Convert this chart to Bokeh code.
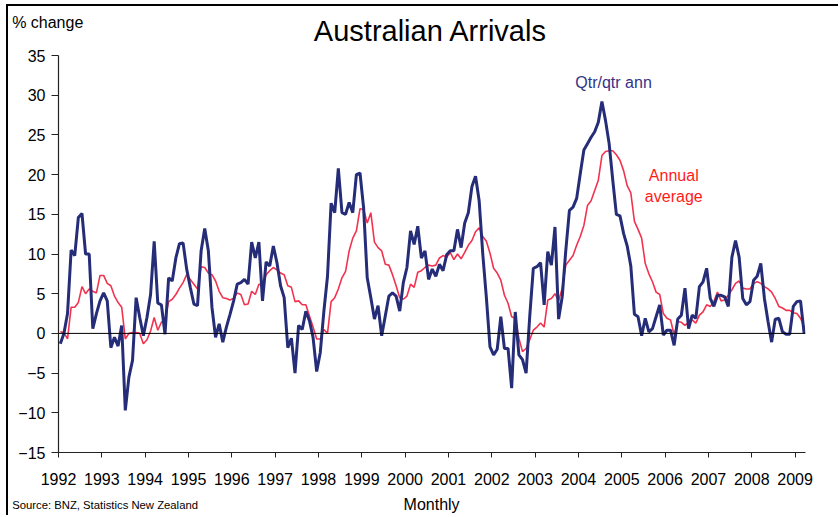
from bokeh.plotting import figure
from bokeh.models import Range1d, FixedTicker, Span, Label
from bokeh.embed import file_html
from bokeh.resources import INLINE

# ---- data (monthly, starting Jan 1992) ----
start_year = 1992
qtr_ann = [
    -1.3, 0.0, 2.5, 10.5, 9.8, 14.6, 15.1, 10.0, 10.0, 0.6, 2.5, 4.1,
    5.1, 4.1, -1.8, -0.5, -1.6, 1.0, -9.7, -5.5, -3.4, 4.5, 2.0, -0.3,
    2.0, 4.9, 11.6, 3.8, 3.6, -0.1, 7.0, 6.6, 9.5, 11.3, 11.4, 8.1,
    5.8, 3.7, 3.5, 10.4, 13.2, 10.4, 3.3, -0.5, 1.2, -1.1, 0.8, 2.4,
    4.1, 6.2, 6.4, 6.8, 6.2, 11.5, 9.5, 11.5, 4.1, 9.0, 8.5, 11.0,
    8.9, 6.0, 4.5, -1.8, -0.6, -5.0, 1.0, 0.5, 2.8, 1.6, -0.5, -4.8,
    -2.4, 2.8, 7.2, 16.4, 15.2, 20.8, 15.2, 15.0, 16.5, 15.2, 20.0, 20.2,
    15.8, 7.0, 4.5, 1.8, 3.5, -0.3, 2.2, 4.7, 5.1, 4.7, 2.8, 6.4,
    8.3, 12.9, 11.2, 13.5, 9.5, 10.4, 6.8, 8.1, 7.2, 8.7, 7.9, 9.9,
    10.4, 10.4, 13.1, 10.8, 13.9, 15.2, 18.5, 19.8, 16.7, 10.0, 4.5, -1.7,
    -2.7, -2.0, 2.1, -1.9, -1.9, -6.9, 2.7, -2.7, -3.3, -5.0, 2.1, 8.2,
    8.4, 8.9, 3.6, 10.3, 8.6, 13.4, 1.8, 4.6, 10.5, 15.5, 15.9, 17.0,
    20.1, 23.1, 23.9, 24.7, 25.4, 26.6, 29.2, 26.8, 23.9, 19.3, 15.0, 14.8,
    12.6, 11.0, 8.5, 2.4, 2.1, -0.3, 1.9, 0.2, 0.6, 2.1, 3.6, -0.2,
    0.4, 0.4, -1.5, 1.8, 2.3, 5.7, 0.6, 2.3, 1.9, 5.9, 6.5, 8.2,
    4.4, 3.4, 4.8, 4.8, 4.6, 3.4, 9.6, 11.7, 9.6, 4.4, 3.6, 4.0,
    6.7, 7.2, 8.8, 4.4, 1.5, -1.1, 1.8, 1.9, 0.2, -0.1, -0.1, 3.4,
    4.0, 4.1, 0.0,
]
annual_avg = [
    0.2, 0.1, -0.7, 3.3, 3.3, 3.9, 5.9, 5.0, 5.6, 5.3, 5.1, 7.3,
    7.3, 6.3, 6.0, 4.7, 3.9, 3.3, -0.7, 0.0, 0.1, 0.1, 0.0, -1.3,
    -0.8, 0.3, 2.0, 0.4, 1.4, 1.8, 4.0, 4.3, 4.9, 5.7, 6.4, 7.4,
    6.8, 6.2, 5.6, 8.4, 8.3, 7.6, 7.4, 6.6, 5.3, 4.5, 4.4, 4.2,
    4.4, 5.1, 4.9, 3.6, 3.7, 5.3, 4.9, 6.2, 6.1, 7.4, 7.9, 8.3,
    8.0, 7.6, 7.4, 6.0, 5.8, 4.0, 4.1, 3.6, 3.6, 2.2, 0.8, -0.7,
    -0.7, 0.5, 0.0, 4.0, 4.5, 5.6, 7.0, 7.8, 10.4, 12.0, 12.9, 15.7,
    15.6, 13.9, 15.2, 11.5, 10.8, 10.4, 8.7, 8.6, 7.4, 6.0, 4.5, 4.3,
    4.7, 6.2, 5.8, 7.7, 7.9, 8.3, 8.6, 8.5, 8.6, 9.5, 9.8, 9.6,
    10.2, 9.3, 10.0, 9.4, 10.2, 11.1, 11.7, 12.8, 13.3, 12.2, 11.6, 10.1,
    8.2, 7.6, 6.7, 4.8, 3.8, 2.1, 1.9, -0.6, -2.3, -1.9, -0.8, 0.4,
    0.8, 1.3, 0.8, 4.2, 4.4, 5.0, 4.1, 5.7, 8.6, 9.2, 9.8, 11.1,
    12.2, 13.6, 16.1, 16.7, 18.0, 19.3, 22.4, 22.9, 23.0, 23.0, 22.5, 21.8,
    20.5, 18.6, 17.7, 14.1, 13.1, 12.0, 8.8, 7.5, 6.5, 5.2, 4.9, 2.5,
    1.9, 1.7, -0.2, 1.5, 1.4, 1.0, 1.4, 1.7, 1.3, 2.3, 2.7, 3.6,
    3.4, 4.0, 5.2, 4.1, 4.2, 4.8, 5.5, 6.3, 6.6, 5.7, 5.6, 5.6,
    6.3, 6.5, 6.3, 5.9, 5.6, 5.2, 4.4, 3.4, 3.2, 2.9, 2.9, 2.6,
    2.5, 1.9, 0.8,
]
year_ticks = list(range(1992, 2010))
y_ticks = [-15, -10, -5, 0, 5, 10, 15, 20, 25, 30, 35]

# month centres in fractional years
t = [start_year + (i + 0.5) / 12 for i in range(len(qtr_ann))]

BLUE = "#262D78"
RED = "#F2334F"
FONT = "Liberation Sans"

p = figure(width=832, height=511, output_backend="svg", toolbar_location=None,
           x_range=Range1d(1992, 2009.24), y_range=Range1d(-15, 35),
           min_border_left=50, min_border_top=48, min_border_right=35,
           min_border_bottom=65)
p.styles = {"margin-left": "6px", "margin-top": "4px",
            "border-left": "2px solid #000", "border-top": "2px solid #000"}
p.outline_line_color = None
p.xgrid.visible = False
p.ygrid.visible = False
p.background_fill_color = "white"
p.border_fill_color = "white"

p.xaxis.ticker = FixedTicker(ticks=year_ticks)
p.xaxis.major_label_overrides = {y: str(y) for y in year_ticks}
p.yaxis.ticker = FixedTicker(ticks=y_ticks)
for ax in (p.xaxis, p.yaxis):
    ax.axis_line_color = "#222222"
    ax.axis_line_width = 1.2
    ax.major_tick_line_color = "#222222"
    ax.major_tick_in = 0
    ax.minor_tick_line_color = None
    ax.major_label_text_font = FONT
    ax.major_label_text_font_size = "16px"
    ax.major_label_text_color = "black"
p.xaxis.major_tick_out = 5
p.xaxis.major_label_standoff = 15
p.yaxis.major_tick_out = 7
p.yaxis.major_label_standoff = 6

p.add_layout(Span(location=0, dimension="width", line_color="black", line_width=1))

p.line(t, annual_avg, line_color=RED, line_width=1.6)
p.line(t, qtr_ann, line_color=BLUE, line_width=3)

def lab(x, y, text, size, color="black", align="left", place="center"):
    lbl = Label(x=x, y=y, text=text, text_font=FONT, text_font_size=size,
                text_color=color, text_align=align, text_baseline="alphabetic")
    p.add_layout(lbl, place)

lab(2000.59, 38.05, "Australian Arrivals", "29px", align="center", place="above")
lab(1990.93, 39.2, "% change", "16px", place="above")
lab(2004.81, 31.55, "Qtr/qtr ann", "16px", color="#333388", align="center")
lab(2006.2, 19.9, "Annual", "16px", color="#FF1A1A", align="center")
lab(2006.2, 17.3, "average", "16px", color="#FF1A1A", align="center")
lab(2000.61, -21.55, "Monthly", "16px", align="center", place="below")
lab(1990.93, -21.55, "Source: BNZ, Statistics New Zealand", "11.3px", place="below")

open("out.html", "w").write(file_html(p, INLINE))
